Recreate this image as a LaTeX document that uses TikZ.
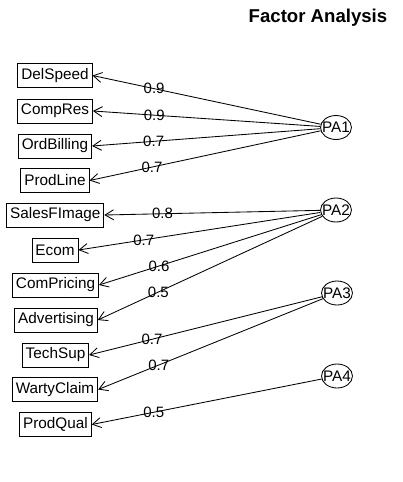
\documentclass[tikz,border=0pt]{standalone}
\usepackage{fontspec}
\setmainfont{Liberation Sans}
\usetikzlibrary{arrows.meta,shapes.geometric}
\begin{document}
\begin{tikzpicture}[x=1pt,y=-1pt,
  var/.style={draw=black,line width=0.85pt,rectangle,inner xsep=3.5pt,inner ysep=0pt,minimum height=24pt,font=\fontsize{15.3}{18}\selectfont},
  fac/.style={draw=black,line width=0.85pt,ellipse,inner sep=0pt,minimum width=31pt,minimum height=24pt,font=\fontsize{15.3}{18}\selectfont},
  arr/.style={line width=0.85pt,-{Straight Barb[length=8.5pt,width=10pt]}},
  lbl/.style={font=\fontsize{15}{18}\selectfont,inner sep=0pt,pos=0.73}]
\useasboundingbox (0,0) rectangle (403,482);
\node[anchor=base,font=\bfseries\fontsize{18.6}{22}\selectfont] (title) at (318,22.7) {Factor Analysis};
% observed variables
\node[var] (v1) at (55,75.5) {DelSpeed};
\node[var] (v2) at (55,111) {CompRes};
\node[var] (v3) at (55,146) {OrdBilling};
\node[var] (v4) at (55,180.5) {ProdLine};
\node[var] (v5) at (55.3,215) {SalesFImage};
\node[var] (v6) at (55,250) {Ecom};
\node[var] (v7) at (55.5,285) {ComPricing};
\node[var] (v8) at (56,320) {Advertising};
\node[var] (v9) at (55.5,355) {TechSup};
\node[var] (v10) at (55,389.5) {WartyClaim};
\node[var] (v11) at (55.5,424.5) {ProdQual};
% factors
\node[fac] (PA1) at (336,127.5) {\makebox[0pt]{PA1}};
\node[fac] (PA2) at (336,210) {\makebox[0pt]{PA2}};
\node[fac] (PA3) at (337,293) {\makebox[0pt]{PA3}};
\node[fac] (PA4) at (337,376) {\makebox[0pt]{PA4}};
% loadings
\draw[arr] (PA1) -- (v1.east) node[lbl] {0.9};
\draw[arr] (PA1) -- (v2.east) node[lbl] {0.9};
\draw[arr] (PA1) -- (v3.east) node[lbl] {0.7};
\draw[arr] (PA1) -- (v4.east) node[lbl] {0.7};
\draw[arr] (PA2) -- (v5.east) node[lbl] {0.8};
\draw[arr] (PA2) -- (v6.east) node[lbl] {0.7};
\draw[arr] (PA2) -- (v7.east) node[lbl] {0.6};
\draw[arr] (PA2) -- (v8.east) node[lbl] {0.5};
\draw[arr] (PA3) -- (v9.east) node[lbl] {0.7};
\draw[arr] (PA3) -- (v10.east) node[lbl] {0.7};
\draw[arr] (PA4) -- (v11.east) node[lbl] {0.5};
\end{tikzpicture}
\end{document}
